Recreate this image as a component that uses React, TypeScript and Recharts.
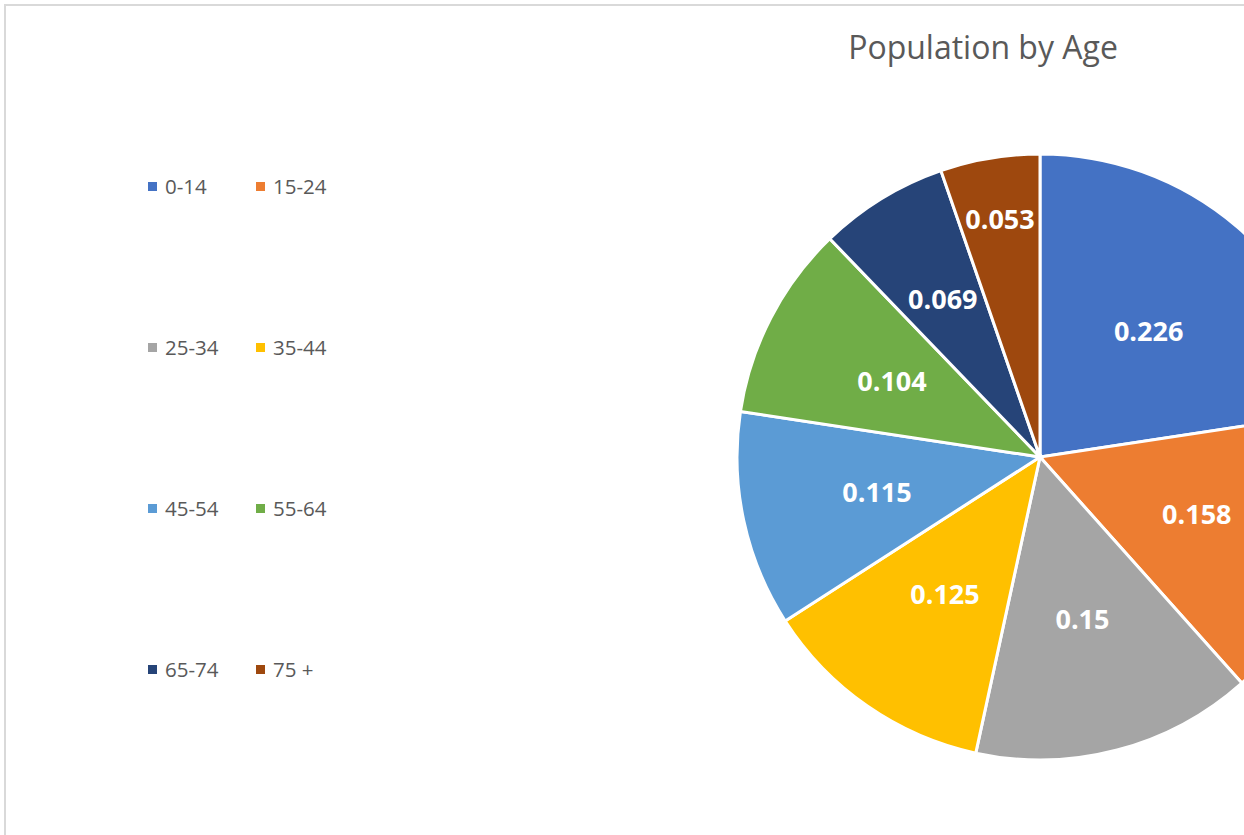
import React from 'react';
import { PieChart, Pie, Cell } from 'recharts';

const ageGroups = ['0-14', '15-24', '25-34', '35-44', '45-54', '55-64', '65-74', '75 +'];
const shares = [0.226, 0.158, 0.15, 0.125, 0.115, 0.104, 0.069, 0.053];
const sliceColors = ['#4472C4', '#ED7D31', '#A5A5A5', '#FFC000', '#5B9BD5', '#70AD47', '#264478', '#9E480E'];

const data = ageGroups.map((name, i) => ({ name, value: shares[i], color: sliceColors[i] }));

const RADIAN = Math.PI / 180;

// narrow slices get their label pushed outward so it fits in the wedge
const renderLabel = ({ cx, cy, midAngle, outerRadius, percent, value }: any) => {
  const halfAngle = percent * Math.PI;
  const fit = 40 / Math.sin(halfAngle);
  const r = Math.min(outerRadius * 0.85, Math.max(outerRadius * 0.55, fit));
  const x = cx + r * Math.cos(-midAngle * RADIAN);
  const y = cy + r * Math.sin(-midAngle * RADIAN);
  return (
    <text
      x={x}
      y={y}
      fill="#ffffff"
      textAnchor="middle"
      dominantBaseline="central"
      style={{ fontFamily: '"Open Sans", sans-serif', fontSize: 27, fontWeight: 700 }}
    >
      {value}
    </text>
  );
};

export default function App() {
  return (
    <div style={{ position: 'absolute', left: 0, top: 0, width: 1244, height: 835, overflow: 'hidden', background: '#fff' }}>
      <div
        style={{
          position: 'absolute',
          left: 4,
          top: 4,
          width: 1270,
          height: 860,
          border: '2px solid #d9d9d9',
          boxSizing: 'border-box',
        }}
      />
      <div
        style={{
          position: 'absolute',
          left: 783,
          top: 25,
          width: 400,
          textAlign: 'center',
          fontFamily: '"Open Sans", sans-serif',
          fontSize: 32,
          color: '#595959',
        }}
      >
        Population by Age
      </div>

      {/* legend, two columns */}
      <div
        style={{
          position: 'absolute',
          left: 148,
          top: 172,
          display: 'grid',
          gridTemplateColumns: '108px 108px',
          rowGap: 133,
          fontFamily: '"Open Sans", sans-serif',
          fontSize: 20.5,
          color: '#595959',
        }}
      >
        {data.map((d) => (
          <div key={d.name} style={{ display: 'flex', alignItems: 'center', height: 28 }}>
            <span style={{ width: 9, height: 9, background: d.color, display: 'inline-block', marginRight: 8 }} />
            <span>{d.name}</span>
          </div>
        ))}
      </div>

      <div style={{ position: 'absolute', left: 0, top: 0 }}>
        <PieChart width={1244} height={835} margin={{ top: 0, right: 0, bottom: 0, left: 0 }}>
          <Pie
            data={data}
            dataKey="value"
            nameKey="name"
            cx={1040}
            cy={457}
            outerRadius={303}
            startAngle={90}
            endAngle={-270}
            stroke="#ffffff"
            strokeWidth={3}
            label={renderLabel}
            labelLine={false}
            isAnimationActive={false}
          >
            {data.map((d, i) => (
              <Cell key={`cell-${i}`} fill={d.color} />
            ))}
          </Pie>
        </PieChart>
      </div>
    </div>
  );
}
